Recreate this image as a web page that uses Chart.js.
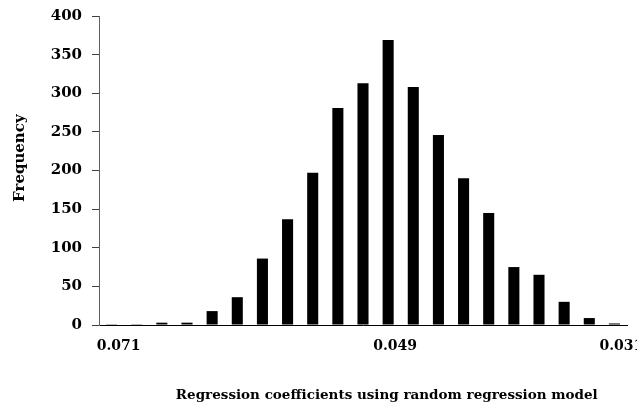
<!DOCTYPE html>
<html>
<head>
<meta charset="utf-8">
<script src="https://cdn.jsdelivr.net/npm/chart.js@4/dist/chart.umd.min.js"></script>
<style>
  html, body { margin: 0; padding: 0; background: #fff; }
  #wrap { width: 637px; height: 408px; position: relative; }
</style>
</head>
<body>
<div id="wrap"><canvas id="c" width="637" height="408"></canvas></div>
<script>
// Bin centres (regression coefficient), from 0.071 down to 0.031
const categories = ['0.071','0.069','0.067','0.065','0.063','0.061','0.059','0.057','0.055','0.053','0.051',
                    '0.049','0.047','0.045','0.043','0.041','0.039','0.037','0.035','0.033','0.031'];
// Frequency per bin
const frequency = [1, 1, 3, 3, 18, 36, 86, 137, 197, 281, 313, 369, 308, 246, 190, 145, 75, 65, 30, 9, 2];
// Tick labels shown on the x axis
const shownTicks = ['0.071', '0.049', '0.031'];
// Y axis ticks
const yMin = 0, yMax = 400, yStep = 50;
// Axis titles
const xTitle = 'Regression coefficients using random regression model';
const yTitle = 'Frequency';

const FONT = "'DejaVu Serif', 'Liberation Serif', serif";

const axisTitles = {
  id: 'axisTitles',
  afterDraw(chart) {
    const ctx = chart.ctx;
    const area = chart.chartArea;
    ctx.save();
    ctx.fillStyle = '#000000';
    ctx.textAlign = 'center';
    ctx.textBaseline = 'middle';
    ctx.font = "bold 13.5px " + FONT;
    ctx.fillText(xTitle, area.left + (area.right - area.left) * 0.545, 395);
    ctx.translate(20, area.top + (area.bottom - area.top) * 0.46);
    ctx.rotate(-Math.PI / 2);
    ctx.font = "bold 15px " + FONT;
    ctx.fillText(yTitle, 0, 0);
    ctx.restore();
  }
};

new Chart(document.getElementById('c'), {
  type: 'bar',
  data: {
    labels: categories,
    datasets: [{
      label: yTitle,
      data: frequency,
      backgroundColor: '#000000',
      borderWidth: 0,
      barPercentage: 0.44,
      categoryPercentage: 1.0
    }]
  },
  plugins: [axisTitles],
  options: {
    responsive: false,
    animation: false,
    devicePixelRatio: 1,
    layout: { padding: { top: 16, right: 10, left: 0, bottom: 0 } },
    plugins: { legend: { display: false }, tooltip: { enabled: false } },
    scales: {
      x: {
        grid: { display: false, drawTicks: false },
        border: { display: true, color: '#000000', width: 1 },
        ticks: {
          autoSkip: false,
          maxRotation: 0,
          minRotation: 0,
          padding: 13,
          labelOffset: 7,
          color: '#000000',
          font: { family: FONT, weight: 'bold', size: 14 },
          callback: function(v, i) {
            const lab = categories[i];
            return shownTicks.includes(lab) ? lab : '';
          }
        },
        title: { display: false },
        afterFit: function(s) { s.height = 83; s.paddingLeft = 0; s.paddingRight = 0; }
      },
      y: {
        min: yMin,
        max: yMax,
        grid: { display: true, drawOnChartArea: false, drawTicks: true, tickLength: 7, color: '#404040' },
        border: { display: true, color: '#606060', width: 1 },
        ticks: {
          stepSize: yStep,
          padding: 10,
          color: '#000000',
          font: { family: FONT, weight: 'bold', size: 15 }
        },
        title: { display: false },
        afterFit: function(s) { s.width = 99; s.paddingTop = 0; s.paddingBottom = 0; }
      }
    }
  }
});
</script>
</body>
</html>
